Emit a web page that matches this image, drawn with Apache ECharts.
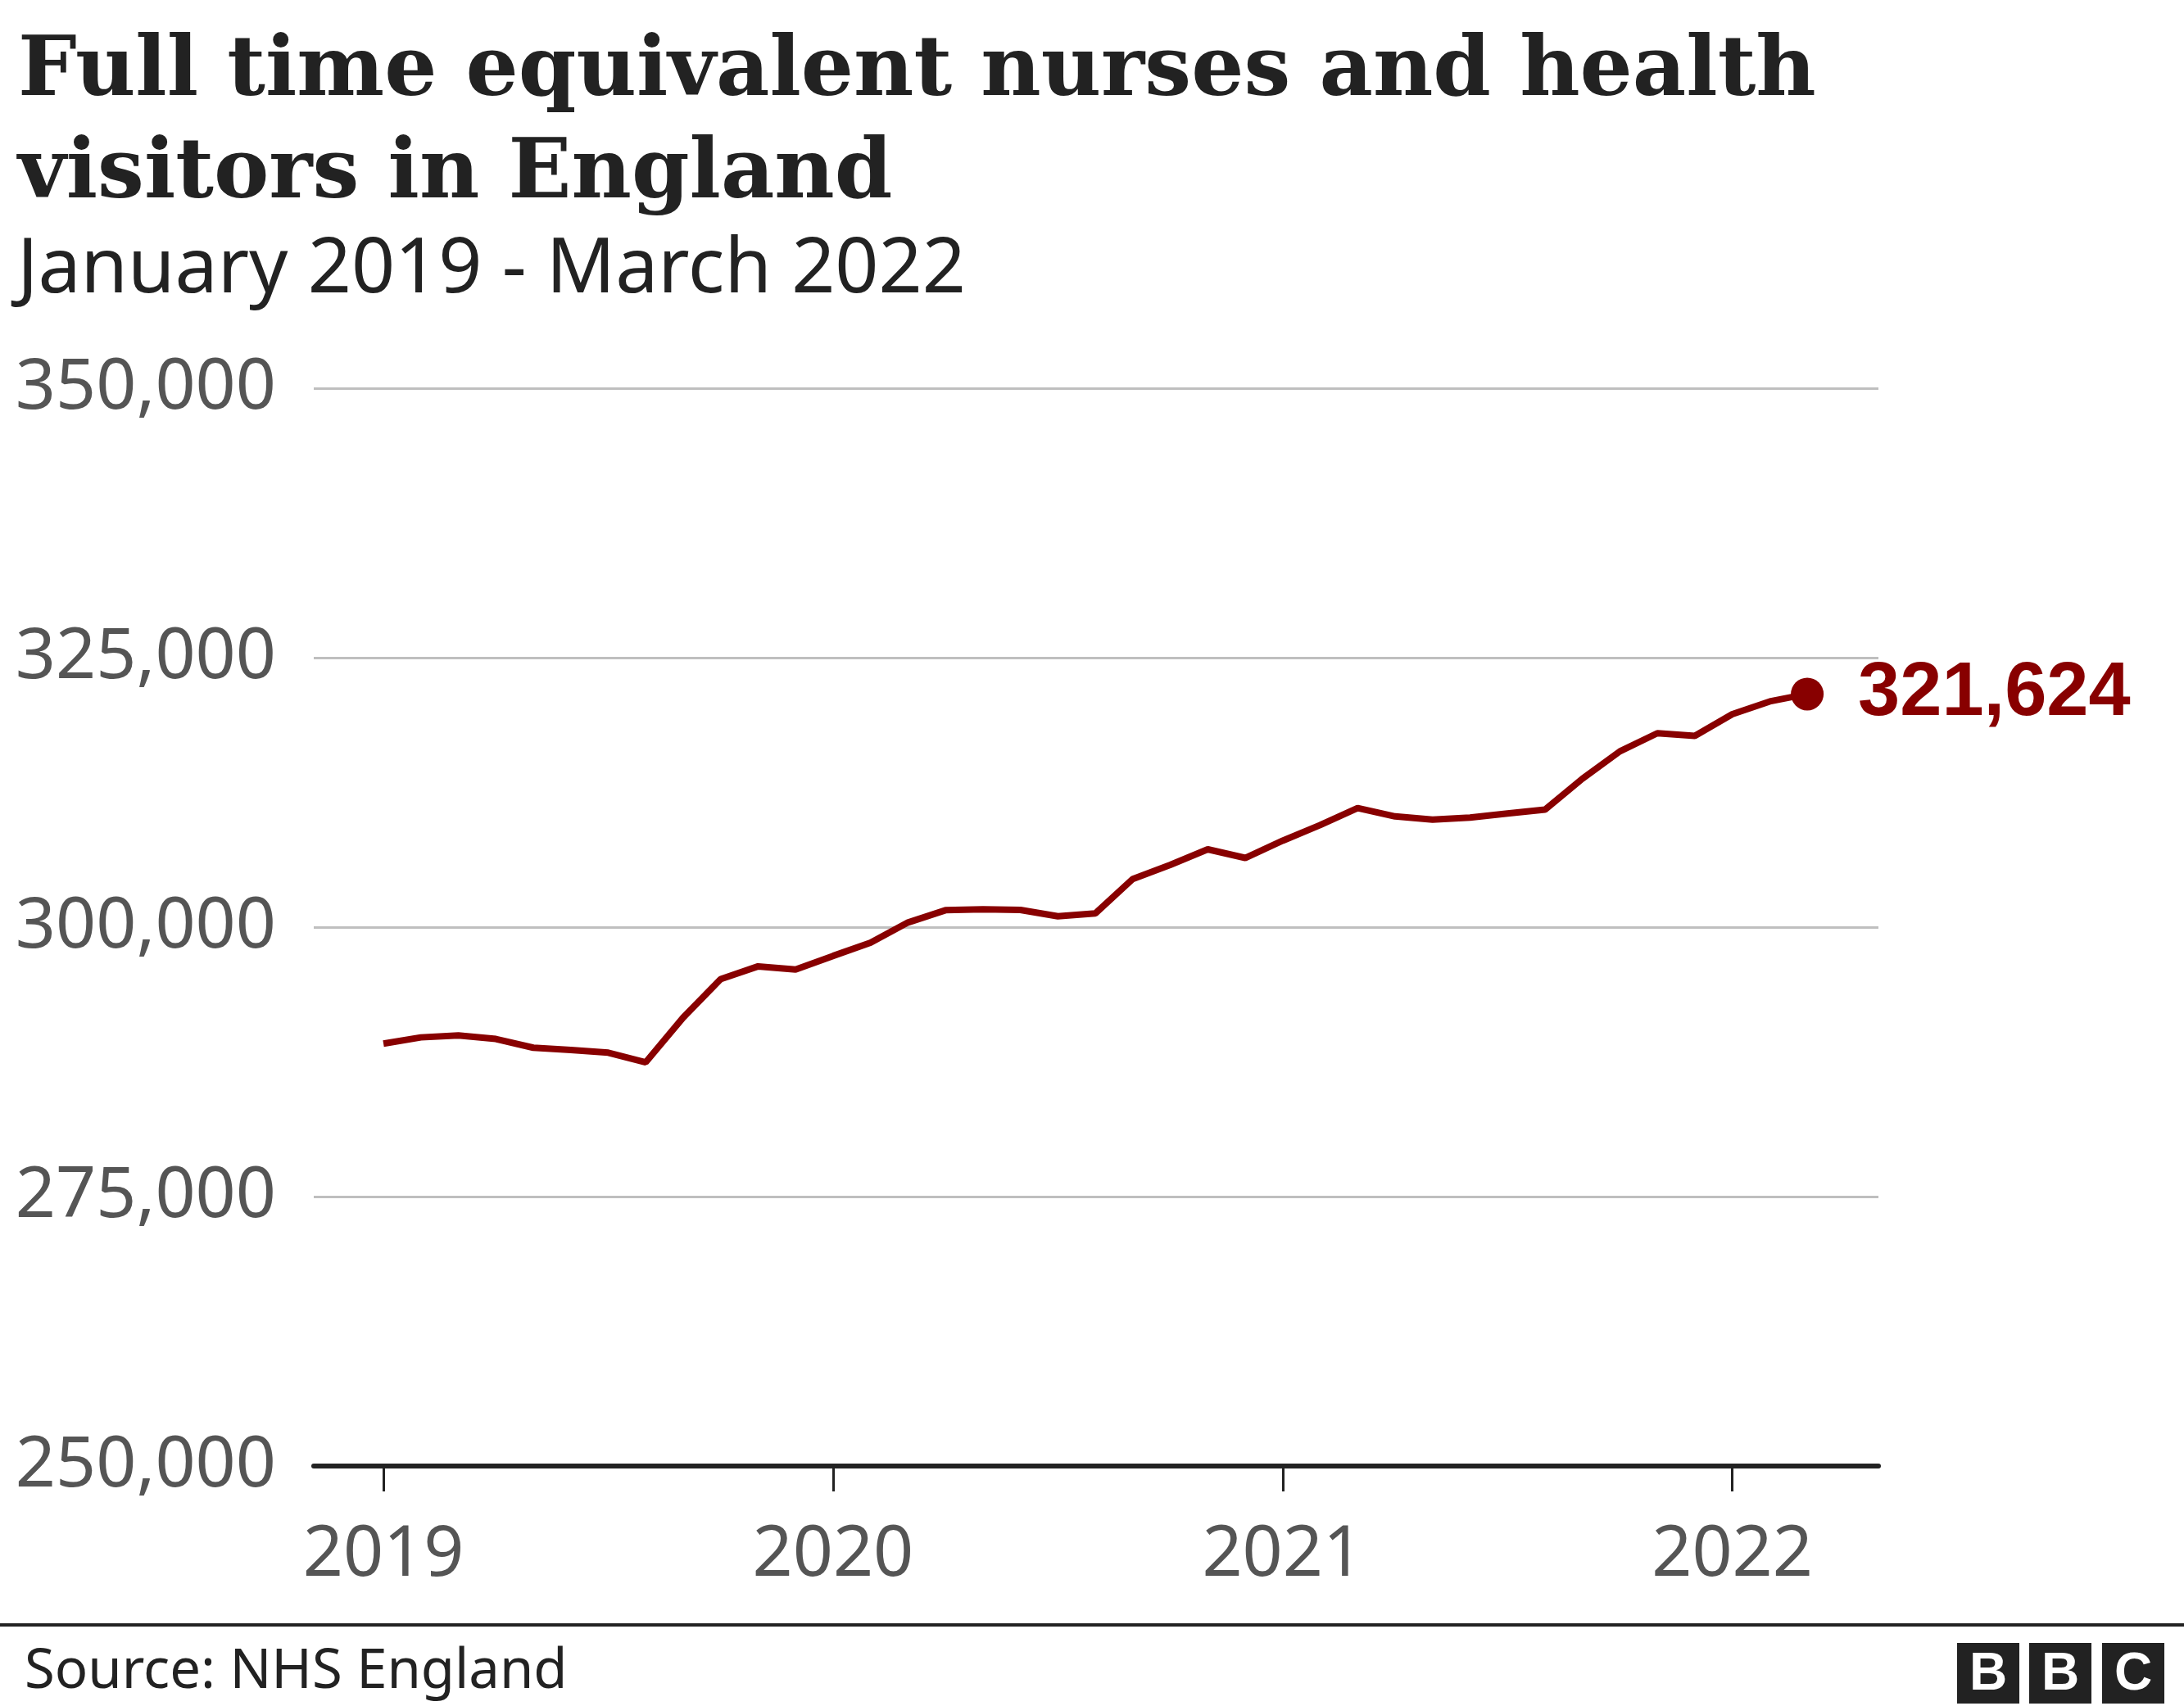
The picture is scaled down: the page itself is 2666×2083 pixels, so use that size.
<!DOCTYPE html>
<html>
<head>
<meta charset="utf-8">
<script src="https://cdn.jsdelivr.net/npm/echarts@6/dist/echarts.min.js"></script>
<style>
html,body{margin:0;padding:0;background:#fff;}
#chart{width:2666px;height:2083px;}
</style>
</head>
<body>
<div id="chart"></div>
<script>
// Monthly data, January 2019 - March 2022
const months = [
  "2019-01","2019-02","2019-03","2019-04","2019-05","2019-06","2019-07","2019-08","2019-09","2019-10","2019-11","2019-12",
  "2020-01","2020-02","2020-03","2020-04","2020-05","2020-06","2020-07","2020-08","2020-09","2020-10","2020-11","2020-12",
  "2021-01","2021-02","2021-03","2021-04","2021-05","2021-06","2021-07","2021-08","2021-09","2021-10","2021-11","2021-12",
  "2022-01","2022-02","2022-03"
];
const nurses = [
  289190, 289770, 289950, 289620, 288810, 288600, 288350, 287460, 291610, 295170, 296360, 296060,
  297330, 298550, 300430, 301570, 301650, 301600, 301010, 301270, 304470, 305780, 307220, 306420,
  308020, 309470, 311050, 310270, 309980, 310170, 310550, 310900, 313770, 316310, 317990, 317740,
  319760, 320940, 321624
];
const yearTickPositions = [0, 12, 24, 36];
const yearLabels = ["2019", "2020", "2021", "2022"];
const yTicks = [250000, 275000, 300000, 325000, 350000];

const titleLines = ["Full time equivalent nurses and health", "visitors in England"];
const subtitle = "January 2019 - March 2022";
const source = "Source: NHS England";

const fmt = v => Math.round(v).toLocaleString('en-GB');

const lineData = nurses.map((v, i) => [i, v]);
const lastIdx = nurses.length - 1;

const chart = echarts.init(document.getElementById('chart'), null, {renderer: 'canvas'});
chart.setOption({
  backgroundColor: '#ffffff',
  animation: false,
  grid: {left: 383, right: 373, top: 474, bottom: 293, containLabel: false},
  xAxis: {
    type: 'value',
    min: -1.86,
    max: 39.9,
    axisLine: {show: true, onZero: false, lineStyle: {color: '#222222', width: 6}},
    axisTick: {show: true, customValues: yearTickPositions, length: 31, lineStyle: {color: '#222222', width: 3}},
    axisLabel: {
      show: true,
      customValues: yearTickPositions,
      formatter: v => yearLabels[yearTickPositions.indexOf(Math.round(v))] || '',
      color: '#555555',
      fontFamily: 'Noto Sans',
      fontSize: 86,
      margin: 66
    },
    splitLine: {show: false}
  },
  yAxis: {
    type: 'value',
    min: yTicks[0],
    max: yTicks[yTicks.length - 1],
    interval: 25000,
    axisLine: {show: false},
    axisTick: {show: false},
    axisLabel: {
      formatter: v => fmt(v),
      color: '#555555',
      fontFamily: 'Noto Sans',
      fontSize: 86,
      margin: 46
    },
    splitLine: {show: true, lineStyle: {color: '#bfbfbf', width: 3}}
  },
  series: [
    {
      type: 'line',
      data: lineData,
      symbol: 'none',
      lineStyle: {color: '#880000', width: 8},
      z: 3
    },
    {
      type: 'scatter',
      data: [[lastIdx, nurses[lastIdx]]],
      symbolSize: 40,
      itemStyle: {color: '#880000', opacity: 1},
      emphasis: {disabled: true},
      label: {
        show: true,
        position: 'right',
        distance: 42,
        formatter: p => fmt(p.value[1]),
        color: '#880000',
        opacity: 1,
        fontFamily: 'Liberation Sans',
        fontWeight: 'bold',
        fontSize: 92
      },
      z: 4
    }
  ],
  graphic: [
    {type: 'text', style: {x: 22, y: 90, text: titleLines[0], font: 'bold 101px "DejaVu Serif"', fill: '#222222', verticalAlign: 'middle'}},
    {type: 'text', style: {x: 22, y: 215, text: titleLines[1], font: 'bold 101px "DejaVu Serif"', fill: '#222222', verticalAlign: 'middle'}},
    {type: 'text', style: {x: 21, y: 330, text: subtitle, font: '93px "Noto Sans"', fill: '#222222', verticalAlign: 'middle'}},
    {type: 'rect', shape: {x: 0, y: 1982, width: 2666, height: 4}, style: {fill: '#222222'}},
    {type: 'text', style: {x: 30, y: 2042, text: source, font: '67px "Noto Sans"', fill: '#222222', verticalAlign: 'middle'}},
    {type: 'rect', shape: {x: 2389, y: 2006, width: 76, height: 74}, style: {fill: '#222222'}},
    {type: 'rect', shape: {x: 2477, y: 2006, width: 76, height: 74}, style: {fill: '#222222'}},
    {type: 'rect', shape: {x: 2566, y: 2006, width: 76, height: 74}, style: {fill: '#222222'}},
    {type: 'text', style: {x: 2427, y: 2045, text: 'B', font: 'bold 64px "Liberation Sans"', fill: '#ffffff', align: 'center', verticalAlign: 'middle'}},
    {type: 'text', style: {x: 2515, y: 2045, text: 'B', font: 'bold 64px "Liberation Sans"', fill: '#ffffff', align: 'center', verticalAlign: 'middle'}},
    {type: 'text', style: {x: 2604, y: 2045, text: 'C', font: 'bold 64px "Liberation Sans"', fill: '#ffffff', align: 'center', verticalAlign: 'middle'}}
  ]
});
</script>
</body>
</html>
